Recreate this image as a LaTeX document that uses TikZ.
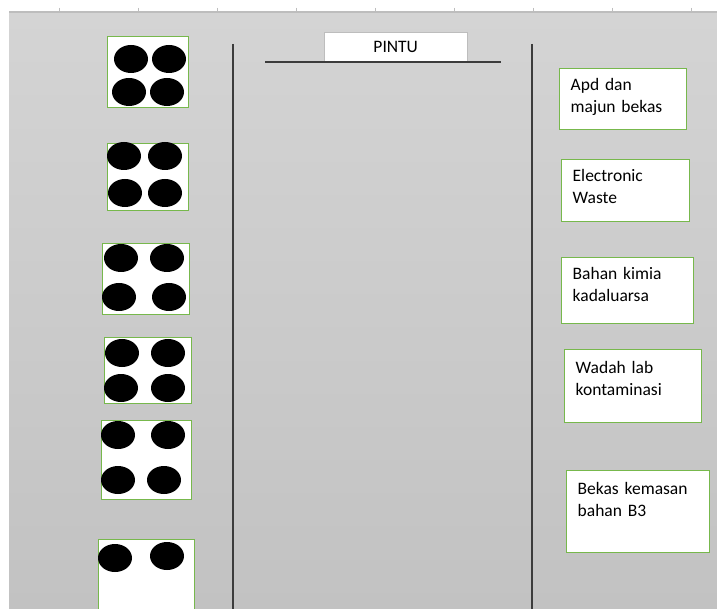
\documentclass[tikz,border=0pt]{standalone}
\usepackage{fontspec}
\setmainfont{Carlito}
\usepackage{tikz}
\definecolor{bingreen}{HTML}{77B84C}
\definecolor{wallgray}{HTML}{3C3C3C}
\definecolor{rulergray}{HTML}{BDBDBD}
\definecolor{bgtop}{HTML}{D4D4D4}
\definecolor{bgbottom}{HTML}{C2C2C2}
\newcommand{\binfont}{\fontsize{17.5}{22}\selectfont}
\tikzset{
	slot/.style={draw=bingreen, line width=1.4pt, fill=white, anchor=north west, inner sep=0pt},
	wastebox/.style={slot, font=\binfont, align=left, inner xsep=11pt, inner ysep=10pt, text height=12pt},
	wall/.style={draw=wallgray, line width=1.6pt},
}

\begin{document}
\begin{tikzpicture}[x=1pt, y=-1pt]
		\useasboundingbox (0,0) rectangle (717,609);
		\clip (0,0) rectangle (717,609);
		
		\fill[white] (0,0) rectangle (717,609);
		\shade[top color=bgtop, bottom color=bgbottom] (9,12) rectangle (717,609);
		\draw[rulergray, line width=1.2pt] (9,12) -- (717,12);
		\foreach \x in {59,138,...,691}
			\draw[rulergray] (\x,8) -- (\x,12);
		
		\node(P1) [draw=rulergray, fill=white, anchor=north west, inner sep=0pt, minimum width=143pt, minimum height=30pt, font=\binfont] at (324,32) {PINTU};
		\draw[wall] (265,62) -- (501,62);
		\draw[wall] (233,44) -- (233,609);
		\draw[wall] (532,44) -- (532,609);
		
		\node(L1) [slot, minimum width=81pt, minimum height=71pt] at (107,36) {};
		\node(L2) [slot, minimum width=81pt, minimum height=67pt] at (107,143) {};
		\node(L3) [slot, minimum width=87pt, minimum height=71pt] at (102,243) {};
		\node(L4) [slot, minimum width=87pt, minimum height=66pt] at (104,337) {};
		\node(L5) [slot, minimum width=90pt, minimum height=79pt] at (101,420) {};
		\node(L6) [slot, minimum width=96pt, minimum height=80pt] at (98,539) {};
		
		\foreach \x/\y in {131/59, 169/59, 129/92, 167/92,
				124/156, 165/156, 125/193, 165/193,
				121/258, 167/258, 119/297, 169/297,
				122/353, 168/353, 121/388, 168/388,
				118/435, 168/435, 118/480, 164/480,
				115/558, 167/556}
			\fill (\x,\y) ellipse [x radius=17, y radius=14];
		
		\node(R1) [wastebox, text width=105pt, text depth=29pt] at (559,68)  {Apd dan\\majun bekas};
		\node(R2) [wastebox, text width=106pt, text depth=30pt] at (561,159) {Electronic\\Waste};
		\node(R3) [wastebox, text width=110pt, text depth=34pt] at (561,257) {Bahan kimia\\kadaluarsa};
		\node(R4) [wastebox, text width=115pt, text height=14pt, text depth=39pt] at (564,349) {Wadah lab\\kontaminasi};
		\node(R5) [wastebox, text width=121pt, text height=14pt, text depth=48pt] at (566,470) {Bekas kemasan\\bahan B3};
		
	\end{tikzpicture}
\end{document}
